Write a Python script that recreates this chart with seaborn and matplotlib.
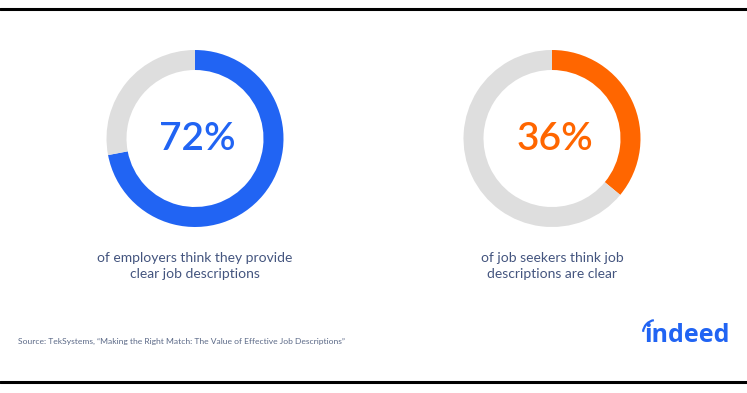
import matplotlib
matplotlib.use("Agg")
import matplotlib.pyplot as plt
import seaborn as sns
from matplotlib.lines import Line2D
from matplotlib.patches import Arc

sns.set_theme(style="white")
plt.rcParams['font.family'] = ['Lato', 'DejaVu Sans']

# data
shares = [72, 36]
colors = ["#2164f3", "#ff6600"]
rest_color = "#dedede"
captions = ["of employers think they provide\nclear job descriptions",
            "of job seekers think job\ndescriptions are clear"]
source = "Source: TekSystems, \u201cMaking the Right Match: The Value of Effective Job Descriptions\u201d"

W, H = 747, 393
fig = plt.figure(figsize=(W / 100, H / 100), dpi=100)
fig.patch.set_facecolor("white")

centers = [(195, 138.5), (552, 138.5)]
r = 88.5
for (cx, cy), val, col, cap in zip(centers, shares, colors, captions):
    ax = fig.add_axes([(cx - r) / W, (H - cy - r) / H, 2 * r / W, 2 * r / H])
    ax.pie([val, 100 - val], colors=[col, rest_color], startangle=90,
           counterclock=False, radius=1,
           wedgeprops=dict(width=20 / r, linewidth=0))
    ax.set_aspect("equal")
    ax.set_xlim(-1, 1)
    ax.set_ylim(-1, 1)
    ax.axis("off")
    ax.text(0.03, 0, f"{val}%", ha="center", va="center", fontsize=28,
            color=col, fontweight="semibold")
    fig.text(cx / W, (H - 266.5) / H, cap, ha="center", va="center",
             fontsize=10, color="#44557f", linespacing=1.4)

fig.text(18 / W, (H - 341) / H, source, ha="left", va="center",
         fontsize=6.1, color="#5b6987")
fig.text(687 / W, (H - 342) / H, "indeed", ha="center", va="baseline",
         fontsize=18, fontweight="bold", color="#2164f3",
         family=["Open Sans", "DejaVu Sans"])
# little arc over the "i" of the logo
fig.add_artist(Arc((656 / W, (H - 333) / H), 26 / W, 26 / H, theta1=95,
                   theta2=170, color="#2164f3", lw=1.6,
                   transform=fig.transFigure))

fig.add_artist(Line2D([0, 1], [(H - 9) / H] * 2, color="black", lw=2.2))
fig.add_artist(Line2D([0, 1], [(H - 382) / H] * 2, color="black", lw=2.2))

fig.savefig("out.png", dpi=100, facecolor="white")
